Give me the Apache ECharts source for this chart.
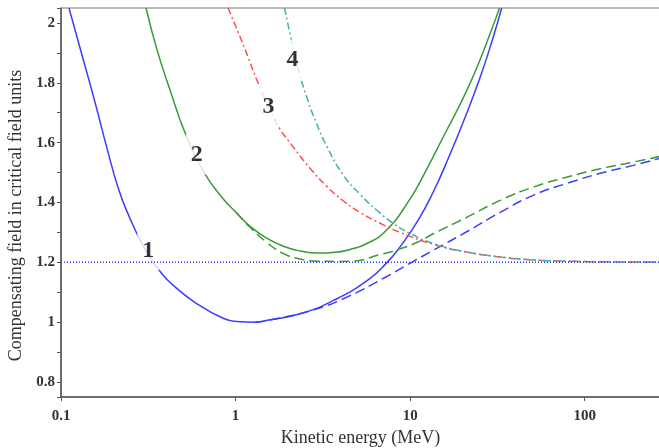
<!DOCTYPE html>
<html>
<head>
    <meta charset="utf-8">
    <title>Compensating field</title>
    <script src="https://cdn.jsdelivr.net/npm/echarts@6/dist/echarts.min.js"></script>
</head>
<body style="margin:0">
    <div id="main" style="width:659px; height:448px"></div>
    <script type="text/javascript">
        // [kinetic energy MeV, field]
        var curve1Solid = [[0.1111, 2.05], [0.1319, 1.893], [0.1566, 1.735], [0.1835, 1.581], [0.215, 1.44],
            [0.2485, 1.347], [0.2912, 1.263], [0.3549, 1.183], [0.4622, 1.112], [0.626, 1.055], [0.815, 1.018],
            [1.007, 1.002], [1.293, 1.0], [1.576, 1.008], [2.343, 1.028], [3.62, 1.072], [5.67, 1.139],
            [7.36, 1.199], [8.71, 1.25], [11.1, 1.34], [13.69, 1.44], [16.64, 1.551], [20.34, 1.675],
            [24.86, 1.809], [29.58, 1.943], [33.45, 2.05]];
        var curve1Dashed = [[1.293, 1.0], [1.515, 1.005], [2.931, 1.045], [4.53, 1.089], [7.0, 1.146],
            [10.13, 1.199], [13.54, 1.24], [21.2, 1.303], [32.8, 1.367], [50.7, 1.424], [79.4, 1.464],
            [122.7, 1.4975], [189.7, 1.524], [270, 1.548]];
        var curve2Solid = [[0.307, 2.05], [0.3549, 1.91], [0.4213, 1.776], [0.5203, 1.625], [0.66, 1.501],
            [0.8367, 1.417], [1.0067, 1.367], [1.211, 1.32], [1.515, 1.28], [1.896, 1.253], [2.343, 1.238],
            [2.931, 1.231], [3.62, 1.233], [4.53, 1.243], [5.67, 1.263], [7.29, 1.3065], [9.87, 1.407],
            [12.35, 1.5075], [15.87, 1.6315], [19.86, 1.742], [24.2, 1.853], [29.7, 1.987], [32.5, 2.05]];
        var curve2Dashed = [[1.0067, 1.367], [1.211, 1.317], [1.515, 1.266], [1.871, 1.23], [2.343, 1.211],
            [2.931, 1.204], [3.717, 1.203], [4.53, 1.204], [7.0, 1.2285], [8.76, 1.245], [10.97, 1.267],
            [13.54, 1.2955], [21.2, 1.351], [32.8, 1.407], [50.7, 1.4516], [79.4, 1.485], [122.7, 1.513],
            [189.7, 1.535], [270, 1.554]];
        var curve3 = [[0.906, 2.05], [1.0335, 1.97], [1.179, 1.886], [1.354, 1.796], [1.722, 1.664],
            [2.144, 1.585], [2.673, 1.514], [3.33, 1.454], [4.15, 1.405], [5.17, 1.367], [7.03, 1.325],
            [8.76, 1.3], [13.6, 1.26], [21.1, 1.2345], [32.8, 1.218], [50.7, 1.208], [79.4, 1.204],
            [122.7, 1.202], [270, 1.201]];
        var curve4 = [[1.909, 2.05], [2.053, 1.963], [2.251, 1.859], [2.535, 1.759], [2.893, 1.668],
            [3.33, 1.588], [4.15, 1.491], [5.17, 1.427], [6.45, 1.374], [8.02, 1.33], [10.0, 1.2965],
            [13.6, 1.263], [21.1, 1.2345], [32.8, 1.218], [50.7, 1.208], [79.4, 1.204], [122.7, 1.202], [270, 1.201]];
        var criticalLine = [[0.1, 1.2], [270, 1.2]];
        var curveLabels = [[0.316, 1.24, '1'], [0.599, 1.561, '2'], [1.542, 1.72, '3'], [2.116, 1.878, '4']];

        var serif = '"Liberation Serif", "DejaVu Serif", serif';
        var myChart = echarts.init(document.getElementById('main'));

        function curve(data, color, type) {
            return {
                type: 'line',
                data: data,
                smooth: 0.5,
                showSymbol: false,
                symbol: 'none',
                lineStyle: { color: color, width: 1.5, type: type }
            };
        }

        var option = {
            animation: false,
            grid: {
                left: 61, top: 8, right: -1, bottom: 51,
                outerBoundsMode: 'none',
                containLabel: false,
                show: true, borderColor: '#777', borderWidth: 1
            },
            xAxis: {
                type: 'log',
                min: 0.1,
                max: 270,
                name: 'Kinetic energy (MeV)',
                nameLocation: 'middle',
                nameGap: 31,
                nameTextStyle: { fontFamily: serif, fontSize: 18, color: '#333' },
                axisLine: { lineStyle: { color: '#555', width: 1.5 } },
                axisTick: { length: 4, lineStyle: { color: '#555' } },
                axisLabel: {
                    fontFamily: serif, fontSize: 15, fontWeight: 'bold', color: '#333', margin: 12,
                    showMaxLabel: false,
                    formatter: function (v) {
                        var p = Math.log10(v);
                        return Math.abs(p - Math.round(p)) < 1e-6 ? String(+v.toPrecision(3)) : '';
                    }
                },
                splitLine: { show: false }
            },
            yAxis: {
                type: 'value',
                min: 0.75,
                max: 2.05,
                minInterval: 0.1,
                maxInterval: 0.1,
                name: 'Compensating field in critical field units',
                nameLocation: 'middle',
                nameGap: 24,
                nameTextStyle: { fontFamily: serif, fontSize: 18, color: '#333', padding: [0, 26, 0, 0] },
                axisLine: { lineStyle: { color: '#555', width: 1.5 } },
                axisTick: { length: 4, lineStyle: { color: '#555' } },
                axisLabel: {
                    fontFamily: serif, fontSize: 15, fontWeight: 'bold', color: '#333', margin: 6,
                    formatter: function (v) {
                        var k = Math.round(v * 10);
                        return (k % 2 === 0 && Math.abs(v * 10 - k) < 1e-6) ? String(k / 10) : '';
                    }
                },
                splitLine: { show: false }
            },
            series: [
                curve(curve1Solid, '#3c3cff', 'solid'),
                curve(curve1Dashed, '#3c3cff', [10, 5]),
                curve(curve2Solid, '#3a9a3a', 'solid'),
                curve(curve2Dashed, '#3a9a3a', [10, 5]),
                curve(curve3, '#ff4d4d', [7, 3, 2, 3]),
                curve(curve4, '#40b0b0', [7, 3, 2, 3]),
                {
                    type: 'scatter',
                    z: 5,
                    data: curveLabels,
                    symbolSize: 0,
                    label: {
                        show: true,
                        position: 'inside',
                        formatter: function (p) { return p.value[2]; },
                        fontFamily: serif,
                        fontSize: 24,
                        fontWeight: 'bold',
                        color: '#000',
                        backgroundColor: '#fff',
                        padding: [8, 5]
                    }
                },
                {
                    type: 'line',
                    z: 6,
                    data: criticalLine,
                    symbol: 'none',
                    lineStyle: { color: '#3333ff', width: 1.5, type: [1, 2] }
                }
            ]
        };

        myChart.setOption(option);
    </script>
</body>
</html>
